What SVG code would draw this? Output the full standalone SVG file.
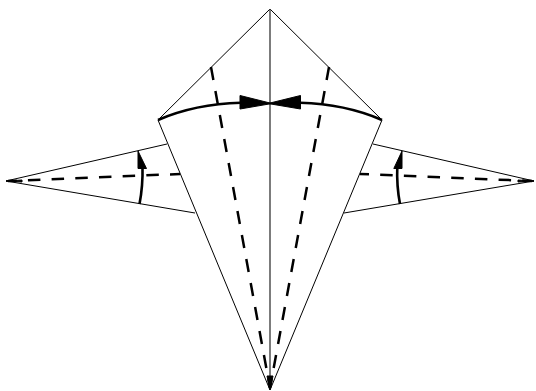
<svg xmlns="http://www.w3.org/2000/svg" width="536" height="391" viewBox="0 0 536 391">
<style>
.t{fill:none;stroke:#000;stroke-width:1}
.c{fill:none;stroke:#444;stroke-width:1.4}
.d{fill:none;stroke:#000;stroke-width:2.5;stroke-dasharray:13.200 11.200}
.e{fill:none;stroke:#000;stroke-width:2.5;stroke-dasharray:12.500 11.200}
.a{fill:none;stroke:#000;stroke-width:2.6}
.h{fill:#000;stroke:#000;stroke-width:1;stroke-linejoin:round}
</style>
<rect width="536" height="391" fill="#fff"/>
<g id="outline">
<path class="t" d="M158 120L270 9L382 120L270 390Z"/>
<path class="t" d="M167 144L6 181L195 213"/>
<path class="t" d="M373 144L534 181L344 213"/>
<path class="c" d="M270 9V390"/>
</g>
<g id="connectors">
<path class="d" d="M211 67L270 388"/>
<path class="d" d="M329 67L270 388"/>
<path class="e" d="M180 174L8 181" stroke-dashoffset="2.500"/>
<path class="e" d="M360 174L532 181" stroke-dashoffset="3.500"/>
<path class="a" d="M158 120Q195 104 241 102.800"/>
<path class="a" d="M382 120Q345 104 300 102.800"/>
<path class="a" d="M139.500 204Q143 186 142.500 166"/>
<path class="a" d="M400 204Q396.500 186 397.300 166"/>
<path class="h" d="M240 95.500L272 103.500L240 109Z"/>
<path class="h" d="M300.500 95.500L268 103.500L300.500 109Z"/>
<path class="h" d="M138 151L146.500 168.500H138Z"/>
<path class="h" d="M402 151L393.800 168.500H402Z"/>
<path class="h" d="M6 181L22 180V182Z"/>
<path class="h" d="M534 181L518 180V182Z"/>
<path class="h" d="M267 376H273L270 390Z"/>
</g>
</svg>
